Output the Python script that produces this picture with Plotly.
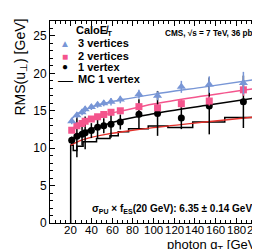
import plotly.graph_objects as go

# ---------------- data ----------------
qt = [21, 26, 31, 34, 40, 46, 52, 59, 68, 86, 104, 127, 154, 187]
rms_1vtx = [11.05, 11.6, 11.85, 12.05, 12.35, 12.8, 13.0, 13.2, 13.5, 14.55, 14.65, 14.05, 15.65, 16.2]
err_1vtx = [0.5, 2.8, 1.5, 2.2, 1.0, 1.5, 1.0, 1.8, 1.0, 2.0, 3.0, 1.5, 3.8, 3.5]
rms_2vtx = [12.4, 13.0, 13.3, 13.6, 13.9, 14.2, 14.5, 14.8, 15.0, 15.55, 15.4, 15.95, 16.3, 17.8]
err_2vtx = [0.3, 0.3, 0.3, 0.3, 0.3, 0.3, 0.3, 0.35, 0.35, 0.4, 0.4, 0.5, 0.6, 0.8]
rms_3vtx = [13.6, 14.4, 14.8, 15.2, 15.5, 15.8, 16.0, 16.2, 16.5, 17.2, 17.0, 18.2, 18.5, 18.7]
err_3vtx = [0.4, 0.4, 0.4, 0.4, 0.4, 0.4, 0.4, 0.5, 0.5, 0.6, 0.6, 0.8, 1.1, 1.5]

# MC 1 vertex histogram
mc_edges = [20, 22.5, 26, 32, 45, 58, 66, 76, 95, 114, 138, 169, 205]
mc_values = [10.4, 9.7, 10.25, 10.85, 11.3, 11.65, 12.2, 12.6, 12.97, 12.77, 13.5, 14.1]

# fitted curves
fit_qt = [20, 25, 30, 40, 50, 70, 100, 150, 200]
fit_3vtx = [13.8, 14.45, 14.9, 15.5, 15.9, 16.5, 17.2, 18.2, 19.2]
fit_2vtx = [12.4, 13.0, 13.5, 14.0, 14.4, 15.0, 15.9, 17.0, 18.0]
fit_1vtx = [11.0, 11.6, 12.0, 12.6, 13.0, 13.8, 14.6, 15.7, 16.75]
fit_mc = [10.4, 10.75, 11.05, 11.45, 11.75, 12.2, 12.75, 13.5, 14.2]

x_ticks = [20, 40, 60, 80, 100, 120, 140, 160, 180, 200]
y_ticks = [0, 5, 10, 15, 20, 25]

BLUE = "#7896d6"
PINK = "#f4558d"
RED = "#e3302a"
FONT = "Liberation Sans, Arial, Helvetica, sans-serif"

fig = go.Figure()

# histogram built from edges/values
hx = [mc_edges[0]] + mc_edges[:-1] + [mc_edges[-1]]
hy = [0] + mc_values + [mc_values[-1]]
fig.add_trace(go.Scatter(x=hx, y=hy, mode="lines", line=dict(color="black", width=1.5, shape="hv"),
                         showlegend=False, hoverinfo="skip"))

for fy, col in [(fit_mc, RED), (fit_1vtx, "black"), (fit_2vtx, PINK), (fit_3vtx, BLUE)]:
    fig.add_trace(go.Scatter(x=fit_qt, y=fy, mode="lines", line=dict(color=col, width=1.4, shape="spline"),
                             showlegend=False, hoverinfo="skip"))

for ys, es, col, sym, sz in [(rms_1vtx, err_1vtx, "black", "circle", 7),
                             (rms_2vtx, err_2vtx, PINK, "square", 7),
                             (rms_3vtx, err_3vtx, BLUE, "triangle-up", 8)]:
    fig.add_trace(go.Scatter(x=qt, y=ys, mode="markers",
                             marker=dict(color=col, symbol=sym, size=sz, line=dict(width=0)),
                             error_y=dict(type="data", array=es, color=col, thickness=1.5, width=0),
                             showlegend=False))

L, R, T, B = 42, 6, 13, 34
W, H = 260, 249
pw, ph = W - L - R, H - T - B


def px(x):
    return (x - L) / pw


def py(y):
    return (H - B - y) / ph


ann = []
# x tick labels placed close to the axis, as in the reference
for t in x_ticks:
    ann.append(dict(x=t, xref="x", y=py(222), text=str(t), xanchor="center", yanchor="middle",
                    font=dict(size=11.5, color="black", family=FONT)))
# legend
ann.append(dict(x=px(66), y=py(23), text="<b>CaloE̸<sub>T</sub></b>", xanchor="left", yanchor="middle",
                font=dict(size=11, color="black", family=FONT)))
items = [("▲", BLUE, 10, "3 vertices", 35), ("■", PINK, 10, "2 vertices", 48),
         ("●", "black", 10, "1 vertex", 59), ("—", "black", 15, "MC 1 vertex", 71)]
for g, c, s, lab, yy in items:
    ann.append(dict(x=px(57), y=py(yy), text=g, xanchor="center", yanchor="middle",
                    font=dict(size=s, color=c, family=FONT)))
    ann.append(dict(x=px(68), y=py(yy), text="<b>%s</b>" % lab, xanchor="left", yanchor="middle",
                    font=dict(size=11, color="black", family=FONT)))
ann.append(dict(x=px(252), y=py(25), text="<b>CMS, √s = 7 TeV, 36 pb<sup>-1</sup></b>", xanchor="right",
                yanchor="middle", font=dict(size=8.2, color="black", family=FONT)))
ann.append(dict(x=px(246), y=py(201),
                text="<b>σ<sub>PU</sub> × f<sub>ES</sub>(20 GeV): 6.35 ± 0.14 GeV</b>",
                xanchor="right", yanchor="middle", font=dict(size=10, color="black", family=FONT)))
# axis titles
ann.append(dict(x=px(12), y=py(9), text="RMS(u<sub>⊥</sub>) [GeV]", textangle=-90, xanchor="center",
                yanchor="top", font=dict(size=14, color="black", family=FONT)))
ann.append(dict(x=px(254), y=py(237), text="photon q<sub>T</sub> [GeV]", xanchor="right", yanchor="middle",
                font=dict(size=13, color="black", family=FONT)))
for a in ann:
    a.setdefault("xref", "paper")
    a.update(yref="paper", showarrow=False)

fig.update_layout(
    width=W, height=H, margin=dict(l=L, r=R, t=T, b=B),
    paper_bgcolor="white", plot_bgcolor="white",
    annotations=ann, showlegend=False,
    font=dict(family=FONT, size=12, color="black"),
)
fig.update_xaxes(range=[0, 205], tickvals=x_ticks, showticklabels=False, ticks="inside", ticklen=5, tickwidth=1,
                 tickcolor="black",
                 showline=True, linecolor="black", linewidth=1, mirror="allticks", showgrid=False, zeroline=False,
                 minor=dict(dtick=5, tick0=0, ticks="inside", ticklen=3, tickcolor="black", showgrid=False))
fig.update_yaxes(range=[0, 27], tickvals=y_ticks, ticks="inside", ticklen=5, tickwidth=1, tickcolor="black",
                 showline=True, linecolor="black", linewidth=1, mirror="allticks", showgrid=False, zeroline=False,
                 minor=dict(dtick=1, tick0=0, ticks="inside", ticklen=3, tickcolor="black", showgrid=False),
                 tickfont=dict(size=12, family=FONT))

fig.write_html("out.html")
